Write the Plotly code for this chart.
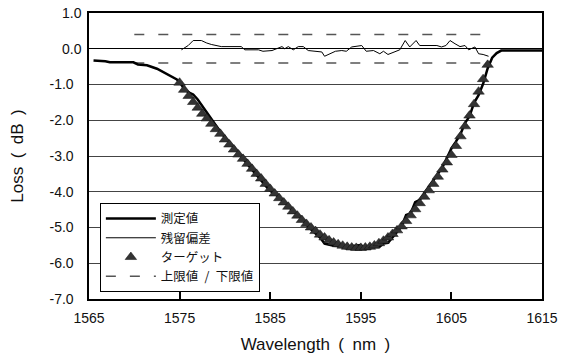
import plotly.graph_objects as go

# ---- data ----
meas_x = [1565.5, 1566.8, 1567.3, 1569.9, 1570.4, 1571.4, 1572.5, 1573.6, 1574.7,
          1575.0, 1575.5, 1576.0, 1576.5, 1577.0, 1577.5, 1578.0, 1578.5, 1579.0, 1579.5,
          1580.0, 1580.5, 1581.0, 1581.5, 1582.0, 1582.5, 1583.0, 1583.5, 1584.0, 1584.5,
          1585.0, 1585.5, 1586.0, 1586.5, 1587.0, 1587.5, 1588.0, 1588.5, 1589.0, 1589.5,
          1590.0, 1590.5, 1591.0, 1591.5, 1592.0, 1592.5, 1593.0, 1593.5, 1594.0, 1594.5,
          1595.0, 1595.5, 1596.0, 1596.5, 1597.0, 1597.5, 1598.0, 1598.5, 1599.0, 1599.5,
          1600.0, 1600.5, 1601.0, 1601.5, 1602.0, 1602.5, 1603.0, 1603.5, 1604.0, 1604.5,
          1605.0, 1605.5, 1606.0, 1606.5, 1607.0, 1607.5, 1608.0, 1608.5, 1609.0, 1609.5,
          1610.0, 1610.5, 1615.0]
meas_y = [-0.33, -0.35, -0.38, -0.38, -0.44, -0.46, -0.56, -0.70, -0.86,
          -0.93, -1.12, -1.22, -1.28, -1.42, -1.60, -1.79, -1.98, -2.16, -2.32,
          -2.48, -2.62, -2.76, -2.90, -3.08, -3.25, -3.39, -3.53, -3.69, -3.84,
          -3.97, -4.07, -4.15, -4.28, -4.38, -4.56, -4.63, -4.74, -4.92, -5.05,
          -5.16, -5.28, -5.45, -5.49, -5.51, -5.52, -5.56, -5.59, -5.52, -5.51,
          -5.49, -5.60, -5.59, -5.55, -5.55, -5.45, -5.43, -5.28, -5.13, -4.97,
          -4.65, -4.61, -4.29, -4.23, -4.05, -3.87, -3.69, -3.50, -3.32, -3.06,
          -2.79, -2.60, -2.39, -2.08, -1.89, -1.51, -1.30, -0.98, -0.55, -0.25,
          -0.12, -0.05, -0.05]

resid_x = [1575.2, 1575.95, 1576.5, 1577.4, 1578.0, 1578.5, 1579.6, 1581.8, 1582.2,
           1583.7, 1584.2, 1585.2, 1586.3, 1586.6, 1587.0, 1587.55, 1588.1, 1588.65,
           1589.2, 1589.9, 1590.7, 1591.0, 1591.6, 1592.2, 1592.9, 1593.4, 1594.0,
           1595.1, 1595.6, 1596.4, 1597.1, 1597.5, 1598.0, 1598.6, 1599.3, 1599.9,
           1600.4, 1601.1, 1601.5, 1603.4, 1603.9, 1604.4, 1604.85, 1605.4, 1605.95,
           1606.5, 1606.9, 1607.6, 1608.0, 1608.5, 1609.1]
resid_y = [-0.03, 0.09, 0.23, 0.23, 0.16, 0.12, 0.06, 0.06, -0.03,
           -0.03, -0.07, -0.05, 0.06, 0.00, 0.06, -0.03, 0.06, 0.06,
           -0.05, -0.06, -0.09, -0.21, -0.14, -0.07, -0.05, -0.07, 0.05,
           0.09, -0.07, -0.05, -0.14, -0.07, -0.16, -0.09, -0.03, 0.23,
           0.05, 0.23, 0.09, 0.09, 0.05, 0.09, 0.23, 0.14, 0.06,
           0.09, -0.03, 0.05, -0.14, -0.16, -0.21]

target_x = [1575.0, 1575.5, 1576.0, 1576.5, 1577.0, 1577.5, 1578.0, 1578.5, 1579.0, 1579.5,
            1580.0, 1580.5, 1581.0, 1581.5, 1582.0, 1582.5, 1583.0, 1583.5, 1584.0, 1584.5,
            1585.0, 1585.5, 1586.0, 1586.5, 1587.0, 1587.5, 1588.0, 1588.5, 1589.0, 1589.5,
            1590.0, 1590.5, 1591.0, 1591.5, 1592.0, 1592.5, 1593.0, 1593.5, 1594.0, 1594.5,
            1595.0, 1595.5, 1596.0, 1596.5, 1597.0, 1597.5, 1598.0, 1598.5, 1599.0, 1599.5,
            1600.0, 1600.5, 1601.0, 1601.5, 1602.0, 1602.5, 1603.0, 1603.5, 1604.0, 1604.5,
            1605.0, 1605.5, 1606.0, 1606.5, 1607.0, 1607.5, 1608.0, 1608.5, 1609.0]
target_y = [-0.95, -1.15, -1.32, -1.49, -1.65, -1.82, -1.95, -2.10, -2.25, -2.38,
            -2.54, -2.68, -2.82, -2.96, -3.08, -3.22, -3.36, -3.50, -3.63, -3.78,
            -3.92, -4.05, -4.18, -4.30, -4.42, -4.55, -4.67, -4.79, -4.90, -5.00,
            -5.10, -5.20, -5.28, -5.36, -5.42, -5.47, -5.51, -5.54, -5.56, -5.57,
            -5.57, -5.56, -5.54, -5.50, -5.44, -5.37, -5.28, -5.18, -5.08, -4.97,
            -4.82, -4.66, -4.49, -4.32, -4.14, -3.96, -3.78, -3.58, -3.38, -3.18,
            -2.97, -2.72, -2.45, -2.17, -1.87, -1.55, -1.20, -0.85, -0.45]

limit_x = [1570.0, 1608.5]
upper_limit = [0.4, 0.4]
lower_limit = [-0.4, -0.4]

y_ticks = [1.0, 0.0, -1.0, -2.0, -3.0, -4.0, -5.0, -6.0, -7.0]
x_ticks = [1565, 1575, 1585, 1595, 1605, 1615]

legend_names = ["測定値", "残留偏差", "ターゲット", "上限値\u2002/\u2002下限値"]
x_title = "Wavelength\u2002(\u2002nm\u2002)"
y_title = "Loss\u2002(\u2002dB\u2002)"

# Excel-style labels: negative numbers carry a trailing figure space
y_text = [f"{v:.1f}" if v >= 0 else f"{v:.1f}\u2007" for v in y_ticks]

# ---- figure ----
fig = go.Figure()

fig.add_trace(go.Scatter(
    x=limit_x + [None] + limit_x, y=upper_limit + [None] + lower_limit,
    mode="lines", name=legend_names[3], legendrank=4,
    line=dict(color="#555555", width=1.5, dash="10px,14px")))

fig.add_trace(go.Scatter(
    x=resid_x, y=resid_y, mode="lines", name=legend_names[1], legendrank=2,
    line=dict(color="black", width=1)))

fig.add_trace(go.Scatter(
    x=meas_x, y=meas_y, mode="lines", name=legend_names[0], legendrank=1,
    line=dict(color="black", width=2.5)))

fig.add_trace(go.Scatter(
    x=target_x, y=target_y, mode="markers", name=legend_names[2], legendrank=3,
    marker=dict(symbol="triangle-up", size=10, color="#333333",
                line=dict(color="#111111", width=0.5))))

fig.update_layout(
    width=567, height=362,
    margin=dict(l=89, r=25, t=13, b=63, autoexpand=False),
    paper_bgcolor="white", plot_bgcolor="white",
    font=dict(family="Liberation Sans, Arial, sans-serif", size=14, color="#111111"),
    showlegend=True,
    legend=dict(
        x=0.024, y=0.336, xanchor="left", yanchor="top",
        bgcolor="white", bordercolor="black", borderwidth=1,
        font=dict(family="Noto Sans CJK JP, sans-serif", size=12.5, color="#111111"),
        itemwidth=50, tracegroupgap=0,
    ),
)

fig.update_xaxes(
    range=[1565, 1615], tickvals=x_ticks, ticktext=[str(v) for v in x_ticks],
    showgrid=False, zeroline=False, automargin=False,
    showline=True, linecolor="black", linewidth=1.5, mirror=True,
    ticks="inside", ticklen=7, tickcolor="black", tickwidth=1.5,
    ticklabelstandoff=5,
    tickfont=dict(size=14),
    title=dict(text=x_title, font=dict(size=17), standoff=14),
)

fig.update_yaxes(
    range=[-7.0, 1.0], tickvals=y_ticks, ticktext=y_text,
    showgrid=True, gridcolor="#444444", gridwidth=1,
    zeroline=True, zerolinecolor="black", zerolinewidth=1,
    showline=True, linecolor="black", linewidth=1.5, mirror=True,
    ticks="", ticklabelstandoff=3, automargin=False, ticklabeloverflow="allow",
    tickfont=dict(size=14),
    title=dict(text=y_title, font=dict(size=17), standoff=22),
)

# remove the default 8px body margin so the figure sits at the page origin
fig.write_html("out.html", config={"displayModeBar": False},
               post_script="document.body.style.margin='0';")
